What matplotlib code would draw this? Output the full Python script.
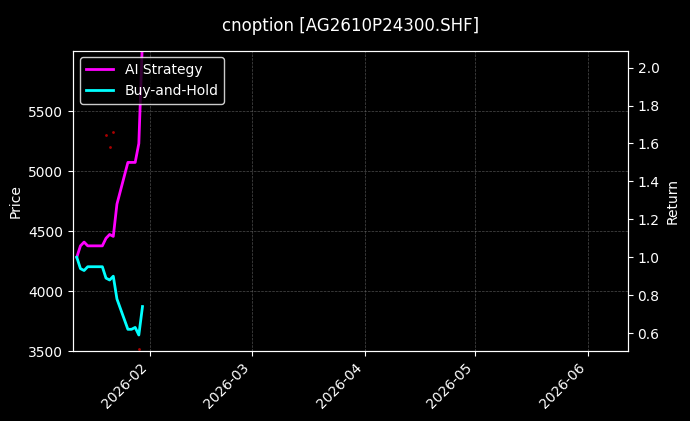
import matplotlib
matplotlib.use("Agg")
import matplotlib.pyplot as plt
import matplotlib.dates as mdates
import pandas as pd

dates = pd.to_datetime(["2026-01-12","2026-01-13","2026-01-14","2026-01-15","2026-01-16",
                        "2026-01-19","2026-01-20","2026-01-21","2026-01-22","2026-01-23",
                        "2026-01-26","2026-01-27","2026-01-28","2026-01-29","2026-01-30"])
ai = [1.0, 1.06, 1.08, 1.06, 1.06, 1.06, 1.10, 1.12, 1.11, 1.28, 1.50, 1.50, 1.50, 1.60, 2.15]
bh = [1.0, 0.94, 0.93, 0.95, 0.95, 0.95, 0.89, 0.88, 0.90, 0.78, 0.62, 0.62, 0.63, 0.59, 0.74]
sig_dates = pd.to_datetime(["2026-01-20","2026-01-21","2026-01-22","2026-01-29"])
sig_price = [5300, 5200, 5330, 3520]

plt.style.use("dark_background")
fig, ax = plt.subplots(figsize=(6.9, 4.21), dpi=100)
fig.patch.set_facecolor("black")
ax.set_facecolor("black")
ax.scatter(sig_dates, sig_price, s=1, color="#aa0000")
ax.set_ylim(3500, 6008)
ax.set_yticks([3500, 4000, 4500, 5000, 5500])
ax.set_ylabel("Price")
ax.set_xlim(pd.Timestamp("2026-01-11"), pd.Timestamp("2026-06-12"))
ax.grid(True, color="gray", linestyle="--", linewidth=0.5, alpha=0.6)
ax2 = ax.twinx()
l1, = ax2.plot(dates, ai, color="magenta", lw=2, label="AI Strategy")
l2, = ax2.plot(dates, bh, color="cyan", lw=2, label="Buy-and-Hold")
ax2.set_ylim(0.505, 2.09)
ax2.set_ylabel("Return")
ax.xaxis.set_major_locator(mdates.MonthLocator())
ax.xaxis.set_major_formatter(mdates.DateFormatter("%Y-%m"))
plt.setp(ax.get_xticklabels(), rotation=45, ha="right")
leg = ax2.legend(handles=[l1, l2], loc="upper left", facecolor="black", edgecolor="white")
ax.set_title("cnoption [AG2610P24300.SHF]", pad=14)
fig.subplots_adjust(left=0.106, right=0.91, top=0.88, bottom=0.166)
fig.savefig("out.png", dpi=100, facecolor="black")
